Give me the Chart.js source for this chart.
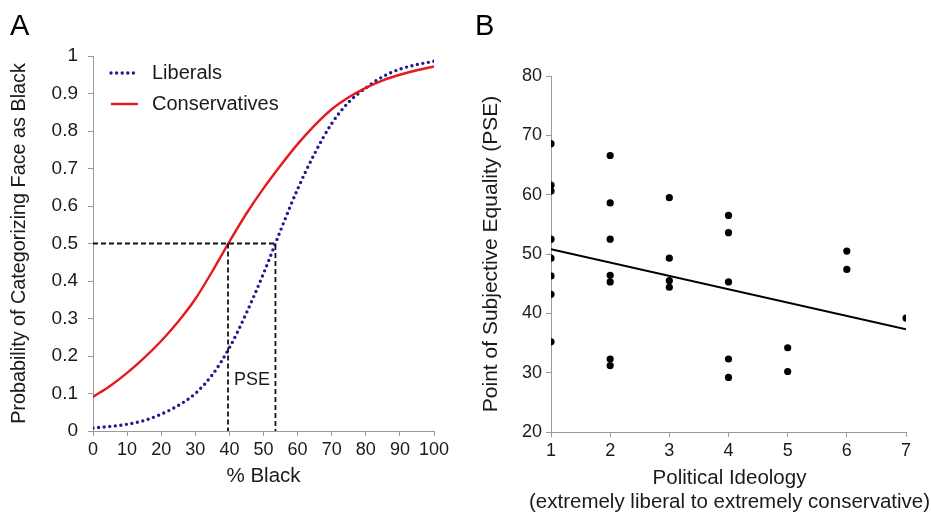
<!DOCTYPE html>
<html>
<head>
<meta charset="utf-8">
<script src="https://cdn.jsdelivr.net/npm/chart.js@4"></script>
<style>
  body { margin: 0; background: #fff; }
  #wrap { position: relative; width: 931px; height: 514px; }
  canvas { position: absolute; top: 0; }
  #chartA { left: 0; }
  #chartB { left: 465px; }
</style>
</head>
<body>
<div id="wrap">
  <canvas id="chartA" width="465" height="514"></canvas>
  <canvas id="chartB" width="466" height="514"></canvas>
</div>
<script>
// Panel A: psychometric curves
const blackPct = [0, 5, 10, 15, 20, 25, 30, 35, 40, 45, 50, 55, 60, 65, 70, 75, 80, 85, 90, 95, 100];
const liberals = [0.008, 0.012, 0.018, 0.028, 0.045, 0.068, 0.10, 0.15, 0.222, 0.315, 0.42, 0.535, 0.645, 0.74, 0.82, 0.877, 0.915, 0.945, 0.965, 0.977, 0.986];
const conservatives = [0.091, 0.12, 0.155, 0.195, 0.24, 0.292, 0.352, 0.426, 0.505, 0.58, 0.647, 0.708, 0.765, 0.815, 0.858, 0.89, 0.915, 0.935, 0.95, 0.962, 0.972];
const pseConservatives = 39.6;
const pseLiberals = 53.5;

// Panel B: PSE by ideology
const ideology = [1, 1, 1, 1, 1, 1, 1, 1, 2, 2, 2, 2, 2, 2, 2, 3, 3, 3, 3, 4, 4, 4, 4, 4, 5, 5, 6, 6, 7];
const pseValues = [68.6, 61.6, 60.6, 52.5, 49.3, 46.3, 43.2, 35.2, 66.6, 58.6, 52.5, 46.4, 45.3, 32.3, 31.2, 59.5, 49.3, 45.5, 44.4, 56.5, 53.6, 45.3, 32.3, 29.2, 34.2, 30.2, 50.5, 47.4, 39.2];
const fitX = [1, 7];
const fitY = [50.8, 37.3];

const FONT = "'Liberation Sans', Arial, Helvetica, sans-serif";
const AXIS = '#9a9a9a';
const TEXT = '#1a1a1a';

Chart.defaults.font.family = FONT;
Chart.defaults.color = TEXT;

const toXY = (xs, ys) => xs.map((x, i) => ({x: x, y: ys[i]}));

// panel letter, legend inside the plot and free labels
const annotations = {
  id: 'annotations',
  afterDraw(chart, args, opts) {
    const ctx = chart.ctx;
    ctx.save();
    ctx.fillStyle = '#000';
    ctx.textBaseline = 'alphabetic';
    ctx.textAlign = 'left';
    ctx.font = '29px ' + FONT;
    ctx.fillText(opts.letter, opts.letterX, 35);

    if (opts.legend) {
      let y = opts.legend.y;
      chart.data.datasets.filter(ds => ds.inLegend).forEach(ds => {
        ctx.beginPath();
        ctx.strokeStyle = ds.borderColor;
        ctx.lineWidth = ds.borderWidth;
        ctx.lineCap = ds.borderCapStyle || 'butt';
        ctx.setLineDash(ds.borderDash || []);
        ctx.moveTo(opts.legend.x + 1, y);
        ctx.lineTo(opts.legend.x + 28, y);
        ctx.stroke();
        ctx.setLineDash([]);
        ctx.font = '20px ' + FONT;
        ctx.fillStyle = TEXT;
        ctx.textBaseline = 'middle';
        ctx.fillText(ds.label, opts.legend.x + 42, y);
        y += 31;
      });
    }

    if (opts.label) {
      const xs = chart.scales.x, ys = chart.scales.y;
      ctx.font = '18px ' + FONT;
      ctx.fillStyle = TEXT;
      ctx.textAlign = 'center';
      ctx.textBaseline = 'middle';
      ctx.fillText(opts.label.text, xs.getPixelForValue(opts.label.x), ys.getPixelForValue(opts.label.y));
    }

    // x title wider than the axis, so it is drawn here
    if (opts.xTitle) {
      const xa = chart.scales.x;
      const cx = (xa.left + xa.right) / 2;
      ctx.font = '20.5px ' + FONT;
      ctx.fillStyle = TEXT;
      ctx.textAlign = 'center';
      ctx.textBaseline = 'middle';
      opts.xTitle.lines.forEach((line, i) => {
        ctx.fillText(line, cx + 1, opts.xTitle.y + i * 24);
      });
    }
    ctx.restore();
  }
};

const tickFont = {size: 18};

new Chart(document.getElementById('chartA'), {
  type: 'scatter',
  data: {
    datasets: [
      {
        label: 'guide',
        data: [{x: 0, y: 0.5}, {x: pseLiberals, y: 0.5}, {x: pseLiberals, y: 0}],
        showLine: true,
        borderColor: '#111',
        borderWidth: 1.8,
        borderDash: [5, 3],
        pointRadius: 0,
        order: 0
      },
      {
        label: 'guide',
        data: [{x: pseConservatives, y: 0.5}, {x: pseConservatives, y: 0}],
        showLine: true,
        borderColor: '#111',
        borderWidth: 1.8,
        borderDash: [5, 3],
        pointRadius: 0,
        order: 0
      },
      {
        label: 'Liberals',
        inLegend: true,
        data: toXY(blackPct, liberals),
        showLine: true,
        cubicInterpolationMode: 'monotone',
        borderColor: '#1c1c8e',
        borderWidth: 3.4,
        borderDash: [0, 5.6],
        borderCapStyle: 'round',
        pointRadius: 0,
        order: 2
      },
      {
        label: 'Conservatives',
        inLegend: true,
        data: toXY(blackPct, conservatives),
        showLine: true,
        cubicInterpolationMode: 'monotone',
        borderColor: '#e41a1c',
        borderWidth: 2.4,
        pointRadius: 0,
        order: 1
      }
    ]
  },
  options: {
    responsive: false,
    animation: false,
    layout: {padding: {left: 0, top: 56, right: 31, bottom: 0}},
    plugins: {
      legend: {display: false},
      tooltip: {enabled: false},
      annotations: {
        letter: 'A', letterX: 10,
        legend: {x: 110, y: 73},
        label: {text: 'PSE', x: 46.6, y: 0.136}
      }
    },
    scales: {
      x: {
        type: 'linear',
        min: 0,
        max: 100,
        ticks: {stepSize: 10, font: tickFont, padding: 3, maxRotation: 0},
        grid: {drawOnChartArea: false, color: AXIS, tickLength: 5},
        border: {color: AXIS},
        title: {display: true, text: '% Black', font: {size: 20.5, lineHeight: 1.2}, padding: {top: 0, bottom: 25}},
        afterFit: s => { s.height = 83; }
      },
      y: {
        min: 0,
        max: 1,
        ticks: {
          stepSize: 0.1,
          font: {size: 19},
          padding: 10,
          callback: v => String(Math.round(v * 10) / 10)
        },
        grid: {drawOnChartArea: false, color: AXIS, tickLength: 5},
        border: {color: AXIS},
        title: {display: true, text: 'Probability of Categorizing Face as Black', font: {size: 19.8, lineHeight: 1.2}, padding: {top: 8, bottom: 0}},
        afterFit: s => { s.width = 93; }
      }
    }
  },
  plugins: [annotations]
});

new Chart(document.getElementById('chartB'), {
  type: 'scatter',
  data: {
    datasets: [
      {
        label: 'Fit',
        data: toXY(fitX, fitY),
        showLine: true,
        borderColor: '#000',
        borderWidth: 2,
        pointRadius: 0,
        order: 1
      },
      {
        label: 'PSE',
        data: toXY(ideology, pseValues),
        backgroundColor: '#000',
        borderColor: '#000',
        pointRadius: 3.6,
        borderWidth: 0,
        order: 0
      }
    ]
  },
  options: {
    responsive: false,
    animation: false,
    layout: {padding: {left: 0, top: 76, right: 25, bottom: 0}},
    plugins: {
      legend: {display: false},
      tooltip: {enabled: false},
      annotations: {
        letter: 'B', letterX: 10,
        xTitle: {lines: ['Political Ideology', '(extremely liberal to extremely conservative)'], y: 478}
      }
    },
    scales: {
      x: {
        type: 'linear',
        min: 1,
        max: 7,
        ticks: {stepSize: 1, font: tickFont, padding: 3, maxRotation: 0},
        grid: {drawOnChartArea: false, color: AXIS, tickLength: 5},
        border: {color: AXIS},
        title: {display: false},
        afterFit: s => { s.height = 82; }
      },
      y: {
        min: 20,
        max: 80,
        ticks: {stepSize: 10, font: tickFont, padding: 4},
        grid: {drawOnChartArea: false, color: AXIS, tickLength: 5},
        border: {color: AXIS},
        title: {display: true, text: 'Point of Subjective Equality (PSE)', font: {size: 21, lineHeight: 1.2}, padding: {top: 14, bottom: 0}},
        afterFit: s => { s.width = 86; }
      }
    }
  },
  plugins: [annotations]
});
</script>
</body>
</html>
